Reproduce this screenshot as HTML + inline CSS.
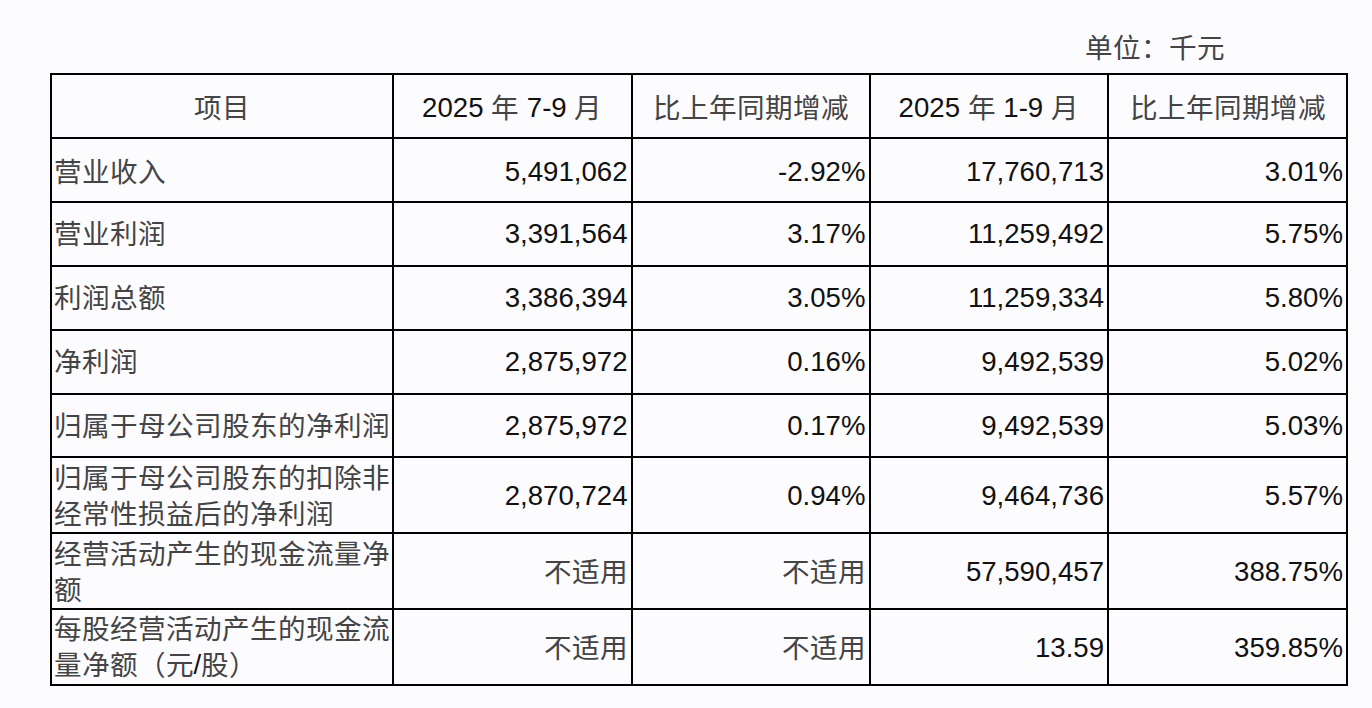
<!DOCTYPE html>
<html lang="zh-CN"><head><meta charset="utf-8"><title>主要会计数据</title>
<style>
html,body{margin:0;padding:0;}
body{width:1372px;height:708px;background:#fcfcfe;position:relative;overflow:hidden;
 font-family:"Liberation Sans",sans-serif;color:#111;font-size:27.6px;}
.hl{position:absolute;left:50px;width:1298px;height:2px;background:#000;}
.vl{position:absolute;top:73px;height:613px;width:2px;background:#000;}
.c{position:absolute;display:flex;align-items:center;white-space:nowrap;line-height:1;box-sizing:border-box;}
.c>span.t{position:relative;}
.h{justify-content:center;}
.l{justify-content:flex-start;padding-left:1.5px;}
.r{justify-content:flex-end;padding-right:3px;}
.ml>span.t{line-height:36px;}
.k{position:relative;top:1px;color:#444;}
.unit{position:absolute;left:1085px;top:33.5px;line-height:1;white-space:nowrap;}
</style></head><body>
<div class="unit"><span class="k">单位：千元</span></div>
<div class="hl" style="top:73px"></div><div class="hl" style="top:137px"></div><div class="hl" style="top:201px"></div><div class="hl" style="top:265px"></div><div class="hl" style="top:329px"></div><div class="hl" style="top:392.5px"></div><div class="hl" style="top:456px"></div><div class="hl" style="top:532px"></div><div class="hl" style="top:608px"></div><div class="hl" style="top:684px"></div>
<div class="vl" style="left:50px"></div><div class="vl" style="left:392px"></div><div class="vl" style="left:630.5px"></div><div class="vl" style="left:868.5px"></div><div class="vl" style="left:1107px"></div><div class="vl" style="left:1346px"></div>
<div class="c h" style="left:52px;top:75px;width:340px;height:62px"><span class="t" style="top:2px"><span class="k">项目</span></span></div>
<div class="c h" style="left:394px;top:75px;width:236.5px;height:62px"><span class="t" style="top:2px">2025 <span class="k">年</span> 7-9 <span class="k">月</span></span></div>
<div class="c h" style="left:632.5px;top:75px;width:236.0px;height:62px"><span class="t" style="top:2px"><span class="k">比上年同期增减</span></span></div>
<div class="c h" style="left:870.5px;top:75px;width:236.5px;height:62px"><span class="t" style="top:2px">2025 <span class="k">年</span> 1-9 <span class="k">月</span></span></div>
<div class="c h" style="left:1109px;top:75px;width:237px;height:62px"><span class="t" style="top:2px"><span class="k">比上年同期增减</span></span></div>
<div class="c l" style="left:52px;top:139px;width:340px;height:62px"><span class="t" style="top:2px"><span class="k">营业收入</span></span></div>
<div class="c r" style="left:394px;top:139px;width:236.5px;height:62px"><span class="t" style="top:2px">5,491,062</span></div>
<div class="c r" style="left:632.5px;top:139px;width:236.0px;height:62px"><span class="t" style="top:2px">-2.92%</span></div>
<div class="c r" style="left:870.5px;top:139px;width:236.5px;height:62px"><span class="t" style="top:2px">17,760,713</span></div>
<div class="c r" style="left:1109px;top:139px;width:237px;height:62px"><span class="t" style="top:2px">3.01%</span></div>
<div class="c l" style="left:52px;top:203px;width:340px;height:62px"><span class="t" style="top:0px"><span class="k">营业利润</span></span></div>
<div class="c r" style="left:394px;top:203px;width:236.5px;height:62px"><span class="t" style="top:0px">3,391,564</span></div>
<div class="c r" style="left:632.5px;top:203px;width:236.0px;height:62px"><span class="t" style="top:0px">3.17%</span></div>
<div class="c r" style="left:870.5px;top:203px;width:236.5px;height:62px"><span class="t" style="top:0px">11,259,492</span></div>
<div class="c r" style="left:1109px;top:203px;width:237px;height:62px"><span class="t" style="top:0px">5.75%</span></div>
<div class="c l" style="left:52px;top:267px;width:340px;height:62px"><span class="t" style="top:0px"><span class="k">利润总额</span></span></div>
<div class="c r" style="left:394px;top:267px;width:236.5px;height:62px"><span class="t" style="top:0px">3,386,394</span></div>
<div class="c r" style="left:632.5px;top:267px;width:236.0px;height:62px"><span class="t" style="top:0px">3.05%</span></div>
<div class="c r" style="left:870.5px;top:267px;width:236.5px;height:62px"><span class="t" style="top:0px">11,259,334</span></div>
<div class="c r" style="left:1109px;top:267px;width:237px;height:62px"><span class="t" style="top:0px">5.80%</span></div>
<div class="c l" style="left:52px;top:331px;width:340px;height:61.5px"><span class="t" style="top:0px"><span class="k">净利润</span></span></div>
<div class="c r" style="left:394px;top:331px;width:236.5px;height:61.5px"><span class="t" style="top:0px">2,875,972</span></div>
<div class="c r" style="left:632.5px;top:331px;width:236.0px;height:61.5px"><span class="t" style="top:0px">0.16%</span></div>
<div class="c r" style="left:870.5px;top:331px;width:236.5px;height:61.5px"><span class="t" style="top:0px">9,492,539</span></div>
<div class="c r" style="left:1109px;top:331px;width:237px;height:61.5px"><span class="t" style="top:0px">5.02%</span></div>
<div class="c l" style="left:52px;top:394.5px;width:340px;height:61.5px"><span class="t" style="top:1px"><span class="k">归属于母公司股东的净利润</span></span></div>
<div class="c r" style="left:394px;top:394.5px;width:236.5px;height:61.5px"><span class="t" style="top:1px">2,875,972</span></div>
<div class="c r" style="left:632.5px;top:394.5px;width:236.0px;height:61.5px"><span class="t" style="top:1px">0.17%</span></div>
<div class="c r" style="left:870.5px;top:394.5px;width:236.5px;height:61.5px"><span class="t" style="top:1px">9,492,539</span></div>
<div class="c r" style="left:1109px;top:394.5px;width:237px;height:61.5px"><span class="t" style="top:1px">5.03%</span></div>
<div class="c l ml" style="left:52px;top:458px;width:340px;height:74px"><span class="t" style="top:1px"><span class="k">归属于母公司股东的扣除非</span><br><span class="k">经常性损益后的净利润</span></span></div>
<div class="c r" style="left:394px;top:458px;width:236.5px;height:74px"><span class="t" style="top:1px">2,870,724</span></div>
<div class="c r" style="left:632.5px;top:458px;width:236.0px;height:74px"><span class="t" style="top:1px">0.94%</span></div>
<div class="c r" style="left:870.5px;top:458px;width:236.5px;height:74px"><span class="t" style="top:1px">9,464,736</span></div>
<div class="c r" style="left:1109px;top:458px;width:237px;height:74px"><span class="t" style="top:1px">5.57%</span></div>
<div class="c l ml" style="left:52px;top:534px;width:340px;height:74px"><span class="t" style="top:1px"><span class="k">经营活动产生的现金流量净</span><br><span class="k">额</span></span></div>
<div class="c r" style="left:394px;top:534px;width:236.5px;height:74px"><span class="t" style="top:1px"><span class="k">不适用</span></span></div>
<div class="c r" style="left:632.5px;top:534px;width:236.0px;height:74px"><span class="t" style="top:1px"><span class="k">不适用</span></span></div>
<div class="c r" style="left:870.5px;top:534px;width:236.5px;height:74px"><span class="t" style="top:1px">57,590,457</span></div>
<div class="c r" style="left:1109px;top:534px;width:237px;height:74px"><span class="t" style="top:1px">388.75%</span></div>
<div class="c l ml" style="left:52px;top:610px;width:340px;height:74px"><span class="t" style="top:0px"><span class="k">每股经营活动产生的现金流</span><br><span class="k">量净额（元</span>/<span class="k">股）</span></span></div>
<div class="c r" style="left:394px;top:610px;width:236.5px;height:74px"><span class="t" style="top:1px"><span class="k">不适用</span></span></div>
<div class="c r" style="left:632.5px;top:610px;width:236.0px;height:74px"><span class="t" style="top:1px"><span class="k">不适用</span></span></div>
<div class="c r" style="left:870.5px;top:610px;width:236.5px;height:74px"><span class="t" style="top:1px">13.59</span></div>
<div class="c r" style="left:1109px;top:610px;width:237px;height:74px"><span class="t" style="top:1px">359.85%</span></div>
</body></html>
